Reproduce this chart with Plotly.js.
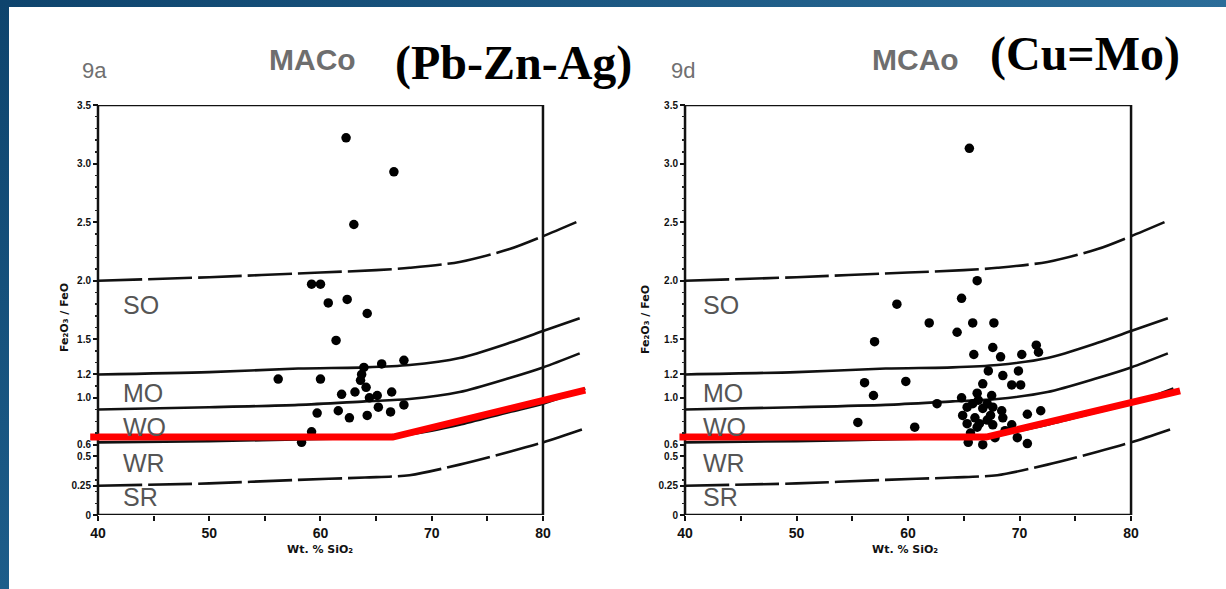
<!DOCTYPE html>
<html><head><meta charset="utf-8">
<script src="https://cdn.plot.ly/plotly-3.0.1.min.js"></script>
<style>
html,body{margin:0;padding:0;background:#fff;overflow:hidden}
#chart{position:absolute;left:0;top:0;width:1226px;height:589px}
.bt{position:absolute;left:0;top:0;width:1226px;height:7px;background:linear-gradient(to right,#0e446d,#2b6d99);z-index:5}
.bl{position:absolute;left:0;top:0;width:9px;height:589px;background:linear-gradient(to bottom,#0e446d,#1d5d8a);z-index:5}
</style></head>
<body>
<div id="chart"></div><div class="bt"></div><div class="bl"></div>
<script>
// ---- boundary curves (SiO2 wt% vs Fe2O3/FeO) ----
const soX = [40, 50, 60, 65, 68, 72.5, 77, 80, 83];
const soY = [2.0, 2.03, 2.07, 2.09, 2.11, 2.16, 2.27, 2.38, 2.50];
const moX = [40, 50, 58, 64, 68, 72.5, 77, 80, 83.3];
const moY = [1.2, 1.22, 1.25, 1.26, 1.28, 1.34, 1.47, 1.57, 1.68];
const woX = [40, 50, 58, 64, 68, 72.5, 77, 80, 83.3];
const woY = [0.9, 0.92, 0.94, 0.97, 0.99, 1.05, 1.17, 1.26, 1.38];
const wrX = [40, 50, 60, 66.5, 70, 72.5, 77, 80, 83.8];
const wrY = [0.62, 0.63, 0.65, 0.67, 0.72, 0.77, 0.88, 0.95, 1.08];
const srX = [40, 50, 58, 64, 68, 72.5, 77, 80, 83.5];
const srY = [0.25, 0.27, 0.30, 0.32, 0.34, 0.43, 0.54, 0.62, 0.73];

// ---- red overlay lines ----
const redLeftX = [39.3, 66.5, 83.8];
const redLeftY = [0.665, 0.665, 1.066];
const redRightX = [39.5, 67.0, 84.4];
const redRightY = [0.665, 0.665, 1.06];

// ---- samples: 9a MACo (Pb-Zn-Ag) ----
const maxX = [62.3, 66.6, 63.0, 59.2, 60.0, 60.7, 62.4, 64.2, 61.4, 63.9, 65.5, 67.5, 56.2, 60.0, 63.7, 63.6, 64.1, 61.9, 63.1, 64.4, 65.1, 66.4, 65.2, 67.5, 59.7, 61.6, 62.6, 64.2, 66.3, 59.2, 58.3];
const maxY = [3.22, 2.93, 2.48, 1.97, 1.97, 1.81, 1.84, 1.72, 1.49, 1.26, 1.29, 1.32, 1.16, 1.16, 1.20, 1.15, 1.09, 1.03, 1.05, 1.00, 1.02, 1.05, 0.92, 0.94, 0.87, 0.89, 0.83, 0.85, 0.88, 0.71, 0.62];

// ---- samples: 9d MCAo (Cu=Mo) ----
const mcaX = [65.5, 66.2, 64.8, 59.0, 61.9, 65.8, 67.7, 64.4, 57.0, 65.9, 67.6, 68.3, 70.2, 71.5, 71.7, 67.2, 68.5, 69.9, 69.3, 70.1, 56.1, 59.8, 56.9, 66.7, 66.2, 67.5, 64.8, 65.3, 65.8, 66.3, 66.7, 67.1, 67.6, 68.4, 68.5, 64.9, 65.3, 66.0, 66.4, 67.1, 67.6, 66.2, 65.6, 65.4, 66.7, 70.7, 71.9, 69.8, 70.7, 69.3, 55.5, 60.6, 62.6, 68.7, 67.8, 67.4];
const mcaY = [3.13, 2.00, 1.85, 1.80, 1.64, 1.64, 1.64, 1.56, 1.48, 1.37, 1.43, 1.35, 1.37, 1.45, 1.39, 1.23, 1.19, 1.23, 1.11, 1.11, 1.13, 1.14, 1.02, 1.12, 1.04, 1.02, 1.00, 0.92, 0.95, 0.98, 0.91, 0.95, 0.92, 0.89, 0.83, 0.85, 0.78, 0.83, 0.78, 0.81, 0.77, 0.75, 0.70, 0.62, 0.60, 0.86, 0.89, 0.66, 0.61, 0.77, 0.79, 0.75, 0.95, 0.72, 0.66, 0.85];

// ---- axis ticks ----
const xTicks = [40, 50, 60, 70, 80];
const xTickText = ['40', '50', '60', '70', '80'];
const xMinorTicks = [45, 55, 65, 75];
const yTicks = [0, 0.25, 0.5, 0.6, 1.0, 1.2, 1.5, 2.0, 2.5, 3.0, 3.5];
const yTickText = ['0', '0.25', '0.5', '0.6', '1.0', '1.2', '1.5', '2.0', '2.5', '3.0', '3.5'];
const zoneNames = ['SO', 'MO', 'WO', 'WR', 'SR'];
const zoneY = [1.795, 1.04, 0.75, 0.444, 0.154];

const W = 1226, H = 589;
const P = v => v / W, Q = v => 1 - v / H;
const minorY = []; for (let i = 1; i < 35; i++) minorY.push(+(i * 0.1).toFixed(2));

function curves(xa, ya) {
  const defs = [[soX, soY, '44px,6px'], [moX, moY, 'solid'], [woX, woY, 'solid'], [wrX, wrY, 'solid'], [srX, srY, '44px,6px']];
  return defs.map(d => ({x: d[0], y: d[1], xaxis: xa, yaxis: ya, mode: 'lines', hoverinfo: 'skip',
    line: {color: '#111', width: 2.6, shape: 'spline', smoothing: 0.8, dash: d[2]}}));
}
function pts(x, y, xa, ya) {
  return {x: x, y: y, xaxis: xa, yaxis: ya, mode: 'markers', cliponaxis: false,
    marker: {color: '#000', size: 9.5}};
}
function red(x, y, xa, ya) {
  return {x: x, y: y, xaxis: xa, yaxis: ya, mode: 'lines', line: {color: '#ff0000', width: 7}};
}

const data = [].concat(
  curves('x', 'y'), curves('x2', 'y2'),
  [pts(maxX, maxY, 'x', 'y'), pts(mcaX, mcaY, 'x2', 'y2'),
   red(redLeftX, redLeftY, 'x', 'y'), red(redRightX, redRightY, 'x2', 'y2')]
);

const tickFontX = {family: 'Liberation Sans', size: 14, color: '#111', weight: 'bold'};
const tickFontY = {family: 'Liberation Sans', size: 10, color: '#111', weight: 'bold'};
function xAxis(dom, anchor) {
  return {domain: dom, range: [38.5, 85], anchor: anchor, showgrid: false, zeroline: false, showline: false,
    tickmode: 'array', tickvals: xTicks, ticktext: xTickText, ticks: 'outside', ticklen: 5, tickwidth: 2,
    tickcolor: '#111', tickfont: tickFontX, fixedrange: true,
    minor: {tickmode: 'array', tickvals: xMinorTicks, ticks: 'outside', ticklen: 5, tickwidth: 2, tickcolor: '#111'}};
}
function yAxis(pos) {
  return {domain: [Q(515), Q(105)], range: [0, 3.5], anchor: 'free', position: pos, showgrid: false,
    zeroline: false, showline: false, tickmode: 'array', tickvals: yTicks, ticktext: yTickText,
    ticks: 'outside', ticklen: 5, tickwidth: 2, tickcolor: '#111', tickfont: tickFontY,
    minor: {tickmode: 'array', tickvals: minorY, ticks: 'outside', ticklen: 3, tickwidth: 1.5, tickcolor: '#222'},
    fixedrange: true};
}

const ann = [];
function txt(x, y, text, font, extra) {
  ann.push(Object.assign({xref: 'paper', yref: 'paper', x: P(x), y: Q(y), text: text, showarrow: false,
    xanchor: 'center', yanchor: 'middle', font: font}, extra || {}));
}
const grayBig = {family: 'Liberation Sans', size: 30, color: '#6e6e6e', weight: 'bold'};
const grayNum = {family: 'Liberation Sans', size: 22, color: '#707070'};
const serif = {family: 'Liberation Serif', size: 48, color: '#000', weight: 'bold'};
const axT = {family: 'DejaVu Sans', size: 11, color: '#111', weight: 'bold'};
txt(94, 70, '9a', grayNum);
txt(313, 60, 'MACo', grayBig);
txt(513, 63, '(Pb-Zn-Ag)', serif);
txt(683, 70, '9d', grayNum);
txt(915, 60, 'MCAo', grayBig);
txt(1085, 54, '(Cu=Mo)', serif);
txt(320, 549, 'Wt. % SiO\u2082', axT);
txt(905, 549, 'Wt. % SiO\u2082', axT);
txt(64, 318, 'Fe\u2082O\u2083 / FeO', axT, {textangle: -90});
txt(645, 320, 'Fe\u2082O\u2083 / FeO', axT, {textangle: -90});
const zoneFont = {family: 'Liberation Sans', size: 25, color: '#555'};
zoneNames.forEach((n, i) => {
  ann.push({xref: 'x', yref: 'y', x: 42.1, y: zoneY[i], text: n, showarrow: false, xanchor: 'left', yanchor: 'middle', font: zoneFont});
  ann.push({xref: 'x2', yref: 'y2', x: 41.4, y: zoneY[i], text: n, showarrow: false, xanchor: 'left', yanchor: 'middle', font: zoneFont});
});

const shapes = [
  {type: 'rect', xref: 'x', yref: 'y', x0: 40, x1: 80, y0: 0, y1: 3.5, line: {color: '#111', width: 2.5}, layer: 'below'},
  {type: 'rect', xref: 'x2', yref: 'y2', x0: 40, x1: 80, y0: 0, y1: 3.5, line: {color: '#111', width: 2.5}, layer: 'below'}
];

const layout = {
  width: W, height: H, margin: {l: 0, r: 0, t: 0, b: 0},
  paper_bgcolor: '#fff', plot_bgcolor: 'rgba(0,0,0,0)', showlegend: false,
  xaxis: xAxis([P(81.3), P(598.6)], 'y'),
  yaxis: yAxis(P(98)),
  xaxis2: xAxis([P(668.3), P(1186.8)], 'y2'),
  yaxis2: yAxis(P(685)),
  annotations: ann, shapes: shapes
};
Plotly.newPlot('chart', data, layout, {displayModeBar: false, staticPlot: true});
</script>
</body></html>
